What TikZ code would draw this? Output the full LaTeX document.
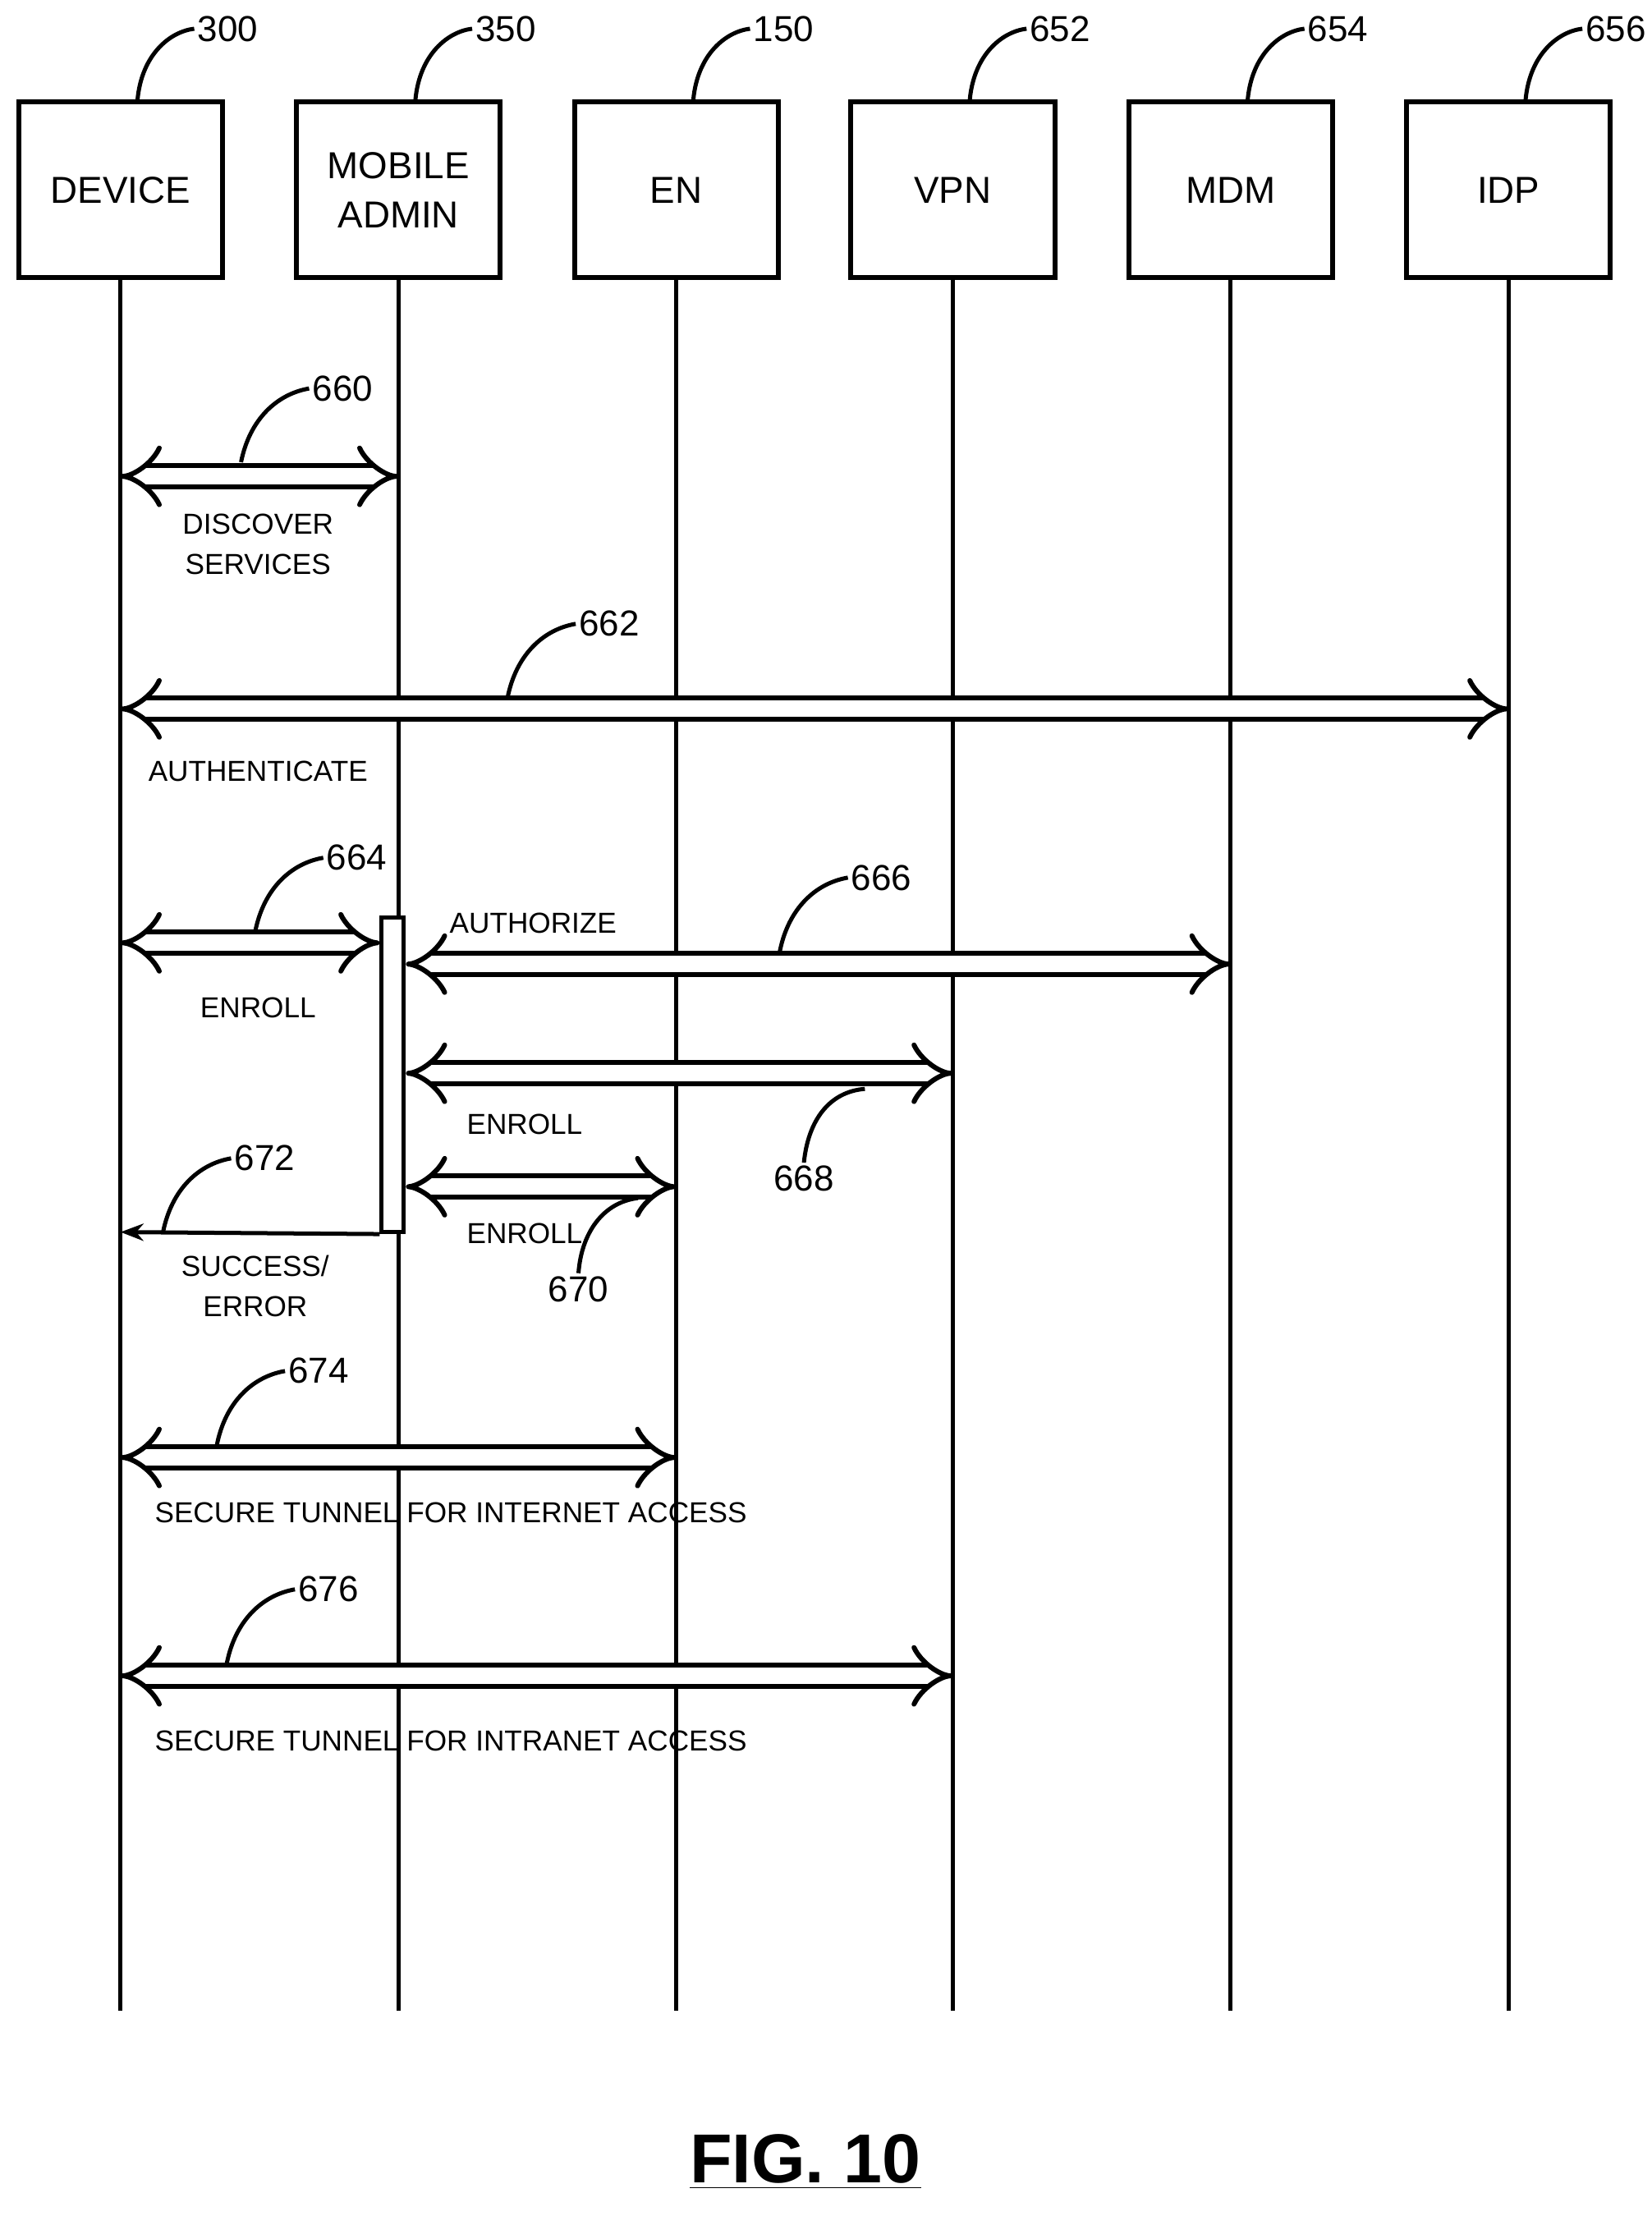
\documentclass[tikz,border=0pt]{standalone}
\usepackage{fontspec}
\setmainfont{Liberation Sans}
\usetikzlibrary{arrows.meta,positioning,calc}

\begin{document}
\begin{tikzpicture}[
  x=0.01726cm, y=-0.01726cm,
  unit/.style={
    rectangle, draw, line width=0.06cm,
    minimum width=2.48cm, minimum height=2.14cm,
    font=\fontsize{13}{17}\selectfont, align=center
  },
  msg/.style={
    double, line width=0.06cm, double distance=0.2cm,
    {Implies[length=0.35cm,width=0.62cm]}-{Implies[length=0.35cm,width=0.62cm]}
  },
  lbl/.style={font=\fontsize{10}{14}\selectfont, align=center},
  refnum/.style={font=\fontsize{12.5}{15}\selectfont, anchor=west, inner sep=1pt},
  lead/.style={line width=0.05cm}
]
  \useasboundingbox (0,0) rectangle (1165,1563);

  % Participants
  \node[unit] (dev) at (85,134) {DEVICE};
  \node[unit] (adm) at (281,134) {MOBILE\\ADMIN};
  \node[unit] (en)  at (477,134) {EN};
  \node[unit] (vpn) at (672,134) {VPN};
  \node[unit] (mdm) at (868,134) {MDM};
  \node[unit] (idp) at (1064,134) {IDP};

  % Lifelines
  \foreach \p in {dev,adm,en,vpn,mdm,idp}{
    \coordinate (\p-end) at (\p.south |- 0,1418);
    \draw[line width=0.05cm] (\p.south) -- (\p-end);
  }

  % Reference numbers of participants
  \foreach \p/\n in {dev/300,adm/350,en/150,vpn/652,mdm/654,idp/656}{
    \node[refnum] (\p-num) at ($(\p.north)+(52,-50)$) {\n};
    \draw[lead] ($(\p.north)+(12,0)$) .. controls ($(\p.north)+(15,-32)$)
      and ($(\p.north)+(35,-48)$) .. (\p-num.west);
  }

  % Activation bar
  \node[draw, line width=0.05cm, fill=white, minimum width=0.27cm, minimum height=3.83cm,
    inner sep=0pt] (bar) at (277,758) {};

  % Messages
  \coordinate (a660) at (dev.south |- 0,336);
  \coordinate (b660) at (adm.south |- 0,336);
  \draw[msg] (a660) -- (b660);
  \node[lbl] (t660) at (182,384) {DISCOVER\\SERVICES};

  \coordinate (a662) at (dev.south |- 0,500);
  \coordinate (b662) at (idp.south |- 0,500);
  \draw[msg] (a662) -- (b662);
  \node[lbl] (t662) at (182,544) {AUTHENTICATE};

  \coordinate (a664) at (dev.south |- 0,665);
  \coordinate (b664) at (bar.west |- 0,665);
  \draw[msg] (a664) -- (b664);
  \node[lbl] (t664) at (182,711) {ENROLL};

  \coordinate (a666) at (bar.east |- 0,680);
  \coordinate (b666) at (mdm.south |- 0,680);
  \draw[msg] (a666) -- (b666);
  \node[lbl] (t666) at (376,651) {AUTHORIZE};

  \coordinate (a668) at (bar.east |- 0,757);
  \coordinate (b668) at (vpn.south |- 0,757);
  \draw[msg] (a668) -- (b668);
  \node[lbl] (t668) at (370,793) {ENROLL};

  \coordinate (a670) at (bar.east |- 0,837);
  \coordinate (b670) at (en.south |- 0,837);
  \draw[msg] (a670) -- (b670);
  \node[lbl] (t670) at (370,870) {ENROLL};

  \coordinate (a672) at (dev.south |- 0,869);
  \draw[line width=0.05cm, -{Stealth[length=0.28cm]}] (bar.south west) -- (a672);
  \node[lbl] (t672) at (180,907) {SUCCESS/\\ERROR};

  \coordinate (a674) at (dev.south |- 0,1028);
  \coordinate (b674) at (en.south |- 0,1028);
  \draw[msg] (a674) -- (b674);
  \node[lbl, anchor=west] (t674) at (102,1067) {SECURE TUNNEL FOR INTERNET ACCESS};

  \coordinate (a676) at (dev.south |- 0,1182);
  \coordinate (b676) at (vpn.south |- 0,1182);
  \draw[msg] (a676) -- (b676);
  \node[lbl, anchor=west] (t676) at (102,1228) {SECURE TUNNEL FOR INTRANET ACCESS};

  % Message reference numbers
  \foreach \x/\y/\n in {170/326/660, 358/492/662, 180/657/664, 550/671/666, 115/869/672, 153/1019/674, 160/1173/676}{
    \node[refnum] (n\n) at (\x+48,\y-52) {\n};
    \draw[lead] (\x,\y) .. controls (\x+6,\y-30) and (\x+25,\y-48) .. (n\n.west);
  }
  \node[refnum, anchor=north] (n668) at (567,820) {668};
  \draw[lead] (610,768) .. controls (585,770) and (570,790) .. (n668.north);
  \node[refnum, anchor=north] (n670) at (408,898) {670};
  \draw[lead] (450,845) .. controls (425,848) and (410,870) .. (n670.north);

  % Figure label
  \node[font=\bfseries\fontsize{24}{28}\selectfont] (fig) at (568,1525) {\underline{FIG. 10}};
\end{tikzpicture}
\end{document}
